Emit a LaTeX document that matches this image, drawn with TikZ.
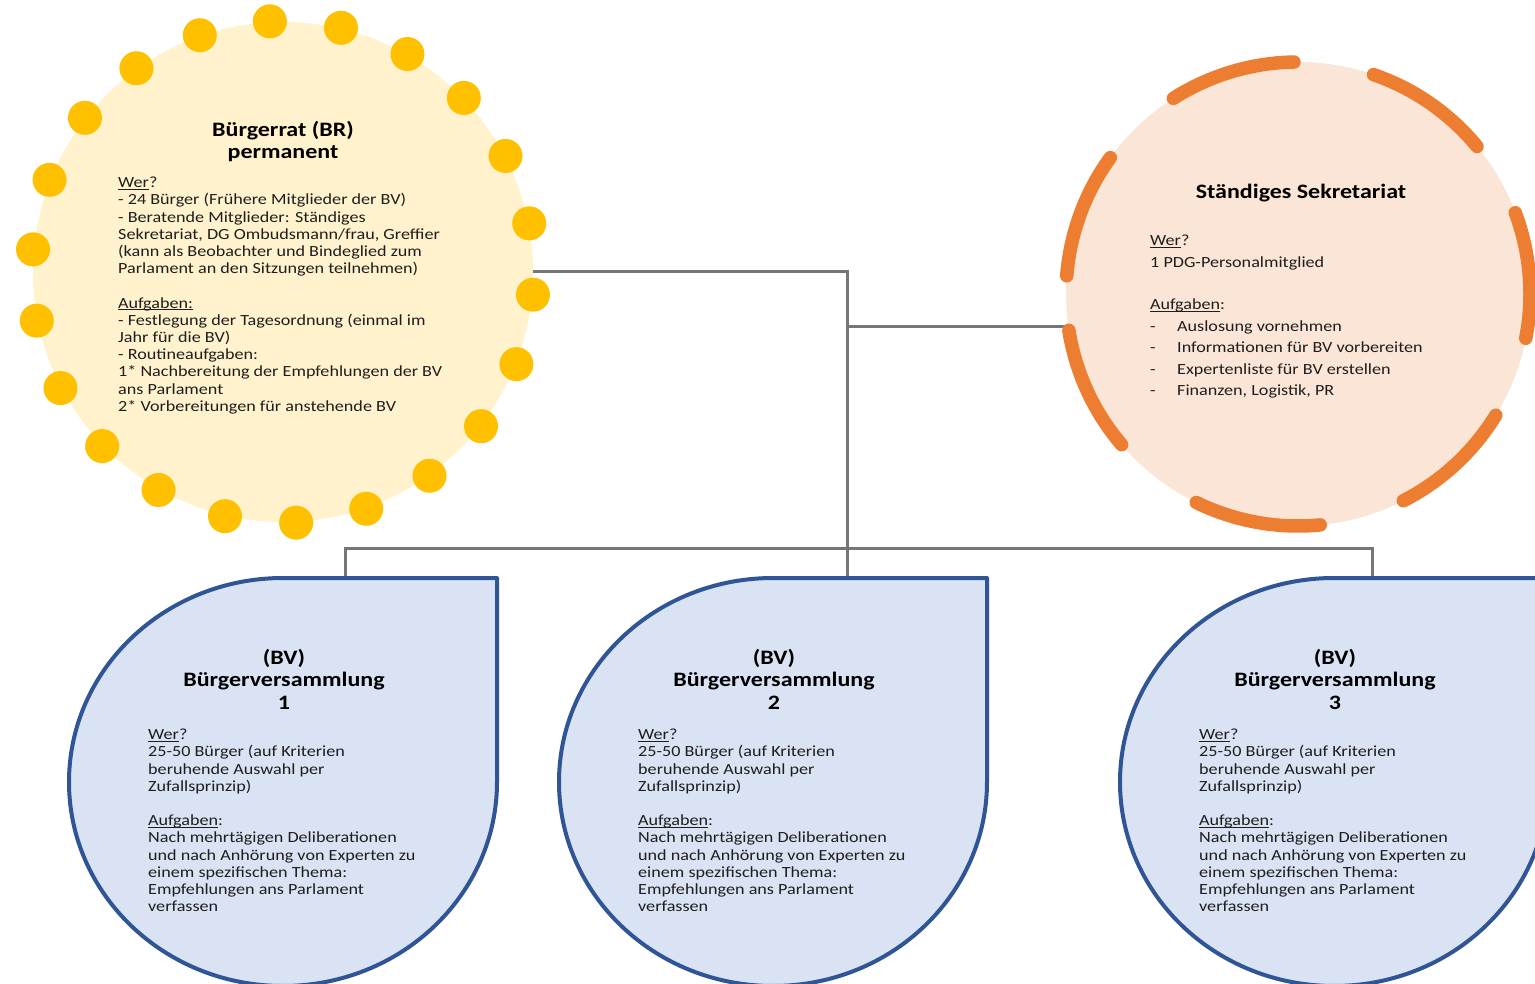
\documentclass[tikz,border=0pt]{standalone}
\usepackage{fontspec}
\setmainfont{Carlito}[FakeStretch=1.17]
\usetikzlibrary{calc}
\definecolor{sunfill}{HTML}{FFF2CC}
\definecolor{sundot}{HTML}{FFC000}
\definecolor{secfill}{HTML}{FBE5D6}
\definecolor{secline}{HTML}{ED7D31}
\definecolor{bvfill}{HTML}{DAE3F3}
\definecolor{bvline}{HTML}{2F5597}
\definecolor{conn}{HTML}{767676}
\definecolor{txt}{HTML}{1E1E1E}
\newcommand\ulword[1]{\underline{\smash{#1}}}
\begin{document}
\begin{tikzpicture}[x=1pt,y=1pt,
  conline/.style={draw=conn, line width=3pt},
  bvshape/.style={fill=bvfill, draw=bvline, line width=4pt, line join=round},
  secdash/.style={draw=secline, line width=13.5pt, line cap=round},
  body/.style={anchor=north west, inner sep=0pt, align=left, text=txt, font=\fontsize{15.5}{17.2}\selectfont},
  secbody/.style={anchor=north west, inner sep=0pt, align=left, text=txt, font=\fontsize{15.5}{21.4}\selectfont},
  titletext/.style={anchor=north, inner sep=0pt, align=center, text=black, font=\bfseries\fontsize{20.5}{22.5}\selectfont}]
\useasboundingbox (0,0) rectangle (1535,-984);
\fill[white] (0,0) rectangle (1535,-984);
\clip (0,0) rectangle (1535,-984);

% main round shapes
\node[circle, fill=sunfill, minimum size=500pt, inner sep=0pt] (br) at (283,-272) {};
\foreach \k in {0,...,21}
  \fill[sundot] (br.center) ++({93-16.3636*\k}:251) circle[radius=17];
\node[circle, fill=secfill, minimum size=464pt, inner sep=0pt] (sec) at (1298,-294) {};

% named connector points
\coordinate (bv1top) at (345,-578);
\coordinate (bv2top) at (847,-578);
\coordinate (bv3top) at (1372,-578);

% connectors
\draw[conline] (br.east) -| (bv2top);
\draw[conline] (sec.188.4) -- (sec.188.4 -| bv2top);
\draw[conline] (bv1top) -- ++(0,30) -| (bv3top);

% dashed ring of the secretariat
\foreach \s in {144,91,39.5,-11,-63,-116,-171}
  \draw[secdash] (sec.center) ++(\s:232) arc[start angle=\s, delta angle=31.5, radius=232];

% assemblies
\foreach \cx/\n in {283/1,773/2,1334/3}{
  \draw[bvshape] (\cx,-578) -- (\cx+214,-578) -- (\cx+214,-782)
     arc[start angle=0, end angle=-270, x radius=214, y radius=204] -- cycle;
  \node[titletext] (bvt\n) at (\cx+1,-649) {(BV)\\Bürgerversammlung\\\n};
  \node[body] (bvb\n) at (\cx-135,-729) {\ulword{Wer}?\\
25-50 Bürger (auf Kriterien\\
beruhende Auswahl per\\
Zufallsprinzip)\\[17.2pt]
\ulword{Aufgaben}:\\
Nach mehrtägigen Deliberationen\\
und nach Anhörung von Experten zu\\
einem spezifischen Thema:\\
Empfehlungen ans Parlament\\
verfassen};
}

% texts of the council
\node[titletext] (brt) at (283,-121) {Bürgerrat (BR)\\permanent};
\node[body] (brb) at (118,-177) {\ulword{Wer}?\\
- 24 Bürger (Frühere Mitglieder der BV)\\
- Beratende Mitglieder: Ständiges\\
Sekretariat, DG Ombudsmann/frau, Greffier\\
(kann als Beobachter und Bindeglied zum\\
Parlament an den Sitzungen teilnehmen)\\[17.2pt]
\ulword{Aufgaben:}\\
- Festlegung der Tagesordnung (einmal im\\
Jahr für die BV)\\
- Routineaufgaben:\\
1* Nachbereitung der Empfehlungen der BV\\
ans Parlament\\
2* Vorbereitungen für anstehende BV};

% texts of the secretariat
\node[titletext] (sect) at (1301,-184) {Ständiges Sekretariat};
\node[secbody] (secb) at (1150,-235) {\ulword{Wer}?\\
1 PDG-Personalmitglied\\[21.4pt]
\ulword{Aufgaben}:\\
\makebox[27pt][l]{-}Auslosung vornehmen\\
\makebox[27pt][l]{-}Informationen für BV vorbereiten\\
\makebox[27pt][l]{-}Expertenliste für BV erstellen\\
\makebox[27pt][l]{-}Finanzen, Logistik, PR};
\end{tikzpicture}
\end{document}
